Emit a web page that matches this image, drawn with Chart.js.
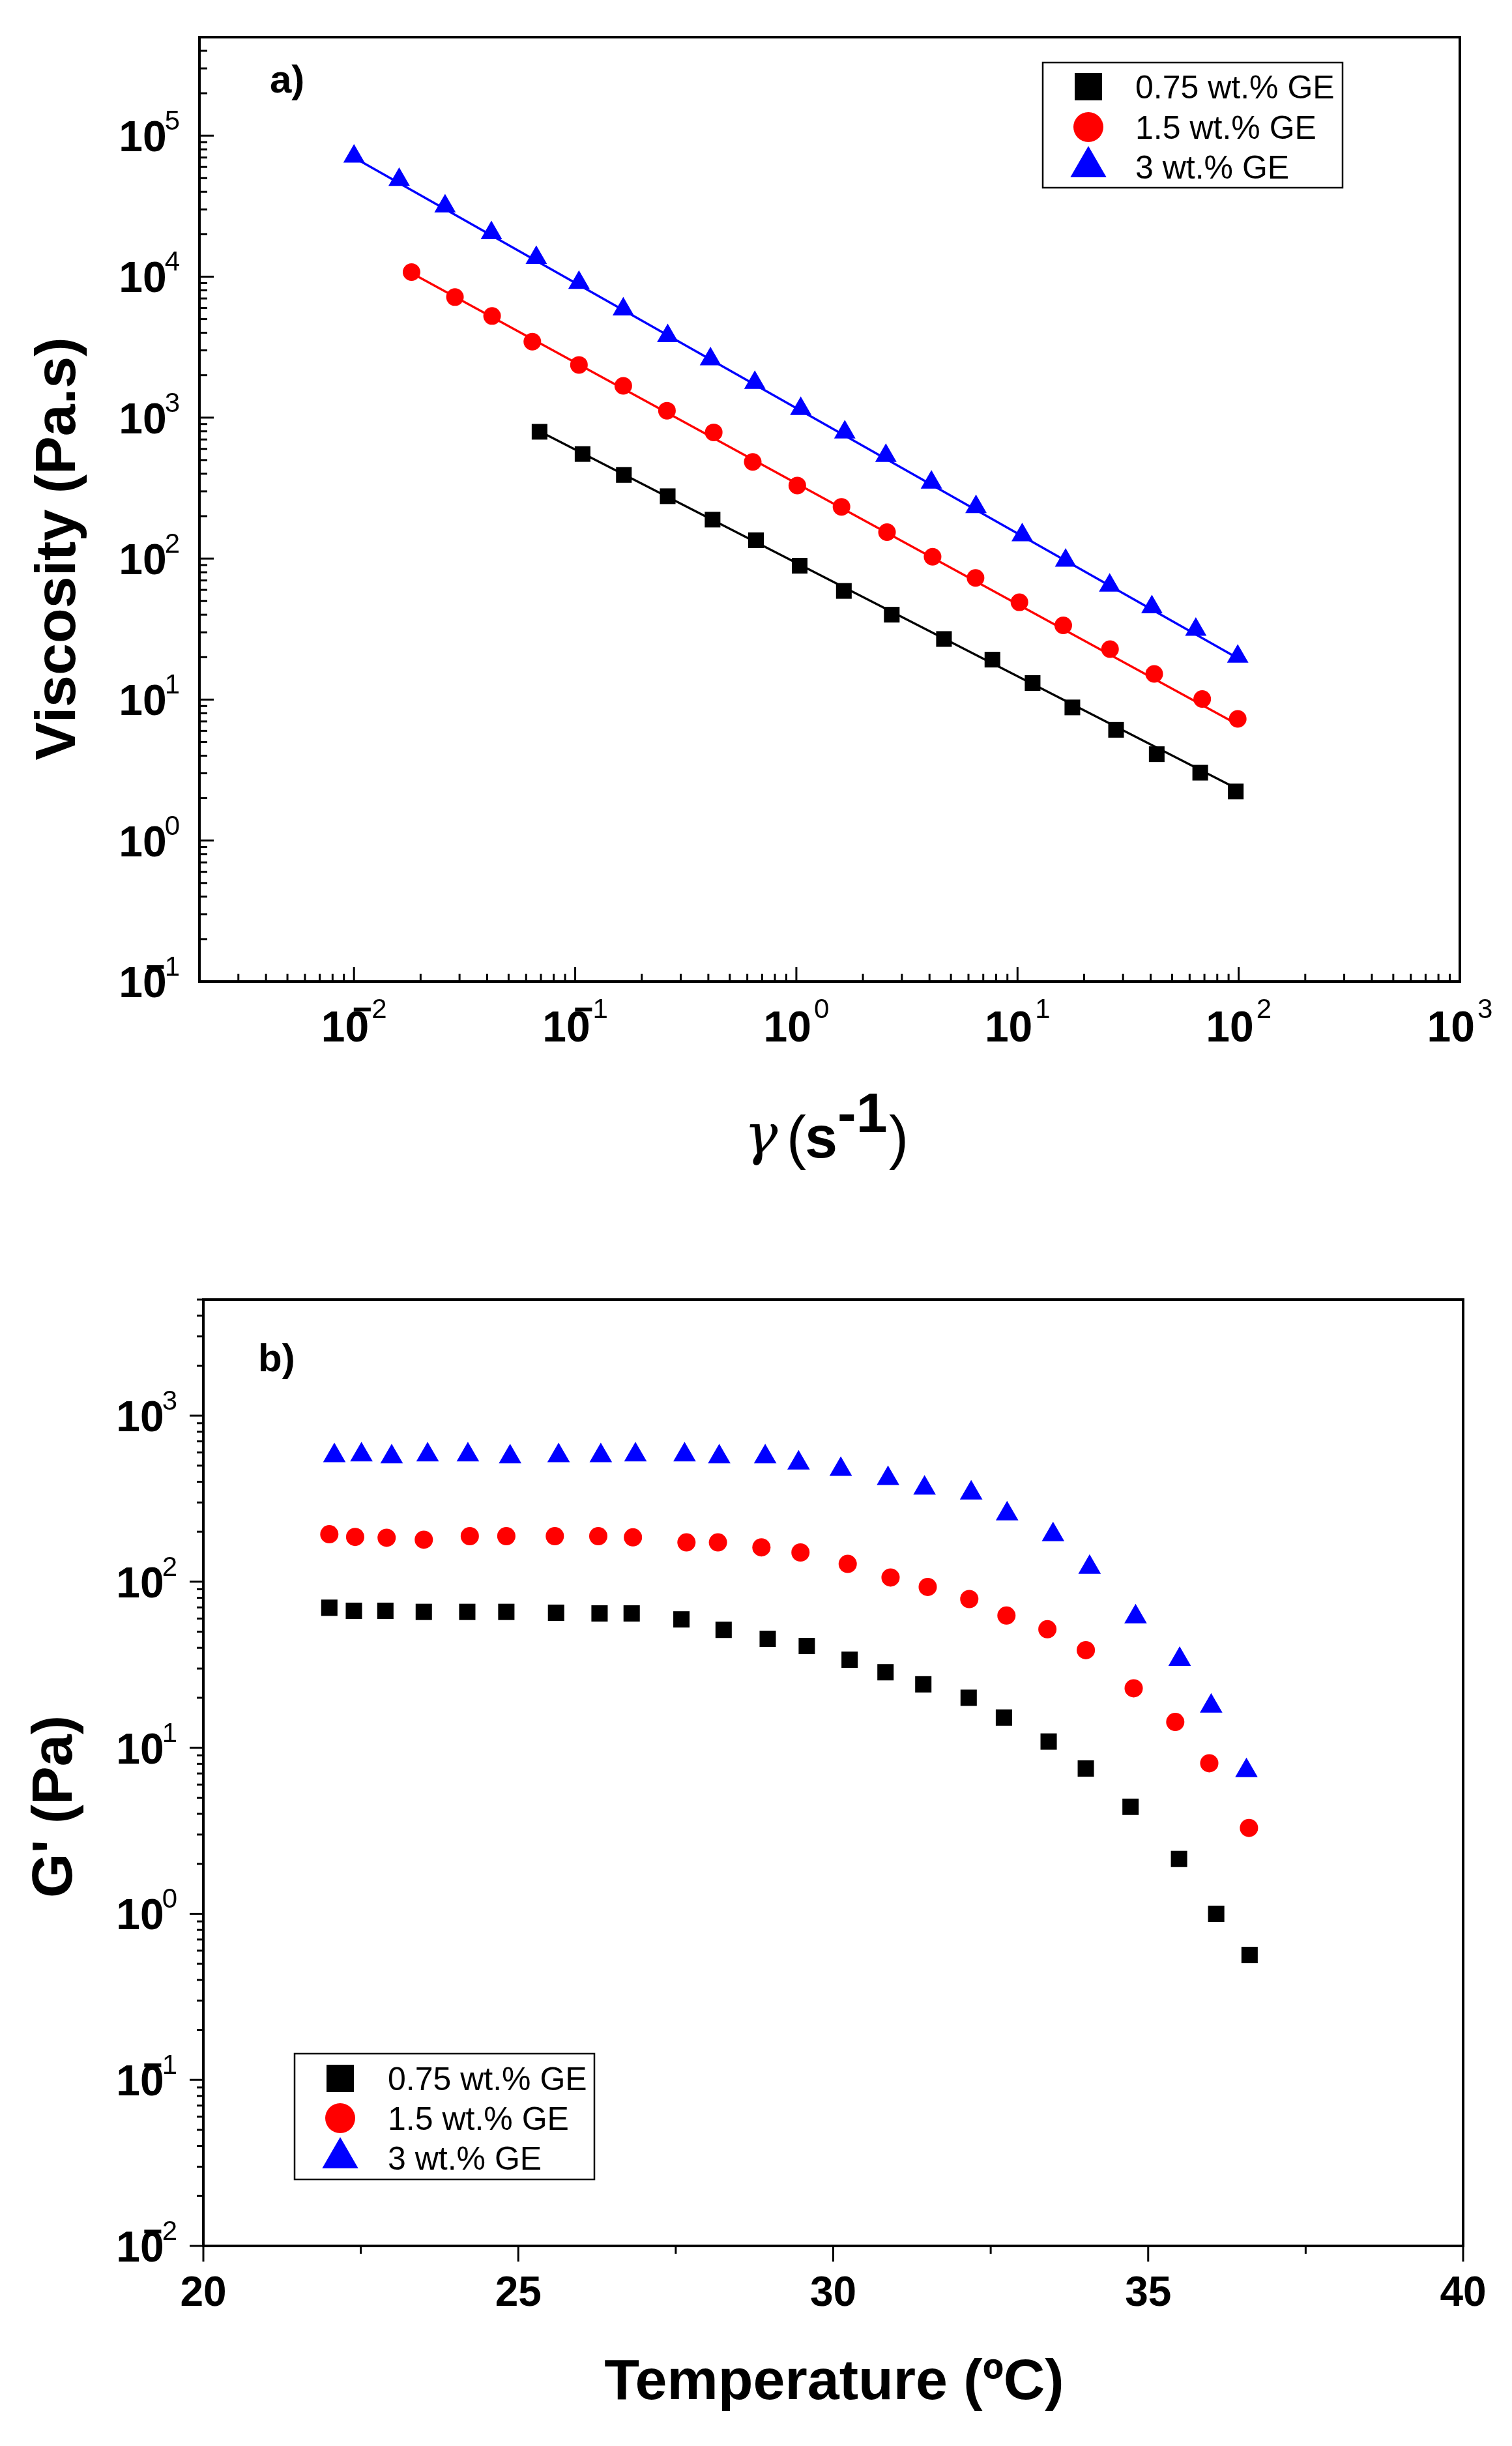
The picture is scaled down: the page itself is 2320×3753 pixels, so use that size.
<!DOCTYPE html>
<html>
<head>
<meta charset="utf-8">
<script src="https://cdn.jsdelivr.net/npm/chart.js@4.4.1/dist/chart.umd.min.js"></script>
<style>
html,body{margin:0;padding:0;background:#ffffff;}
canvas{display:block;}
</style>
</head>
<body>
<canvas id="c1" width="2320" height="1850"></canvas>
<canvas id="c2" width="2320" height="1903"></canvas>
<script>
// ---------- shared series info ----------
const seriesLabels = ['0.75 wt.% GE', '1.5 wt.% GE', '3 wt.% GE'];
const seriesColors = ['#000000', '#ff0000', '#0000ff'];
const seriesStyles = ['rect', 'circle', 'triangle'];

// ---------- panel a) viscosity vs shear rate ----------
const shearRate075 = [0.069, 0.108, 0.166, 0.262, 0.418, 0.657, 1.035, 1.64, 2.7, 4.65, 7.7, 11.7, 17.7, 27.9, 42.6, 67, 97];
const viscosity075 = [794, 552, 392, 277, 189, 135, 89, 59, 40, 26.9, 19.2, 13.1, 8.8, 6.1, 4.1, 3.03, 2.23];
const shearRate15 = [0.0182, 0.0286, 0.0421, 0.064, 0.104, 0.165, 0.26, 0.423, 0.635, 1.01, 1.6, 2.57, 4.13, 6.46, 10.2, 16.1, 26.2, 41.5, 68.4, 99];
const viscosity15 = [10770, 7160, 5260, 3460, 2366, 1682, 1120, 786, 485, 330, 233, 154, 103, 72.9, 49, 33.6, 22.8, 15.2, 10.1, 7.3];
const shearRate3 = [0.01, 0.016, 0.0258, 0.0418, 0.0667, 0.104, 0.165, 0.262, 0.409, 0.649, 1.047, 1.656, 2.54, 4.08, 6.49, 10.5, 16.5, 26.1, 40.5, 64, 99];
const viscosity3 = [71300, 48700, 31600, 20400, 13600, 9060, 5870, 3800, 2600, 1770, 1156, 787, 537, 347, 233, 147, 97, 64.6, 45.3, 31.4, 20.2];
// power-law fit lines (end points)
const fitRate075 = [0.069, 100];
const fitVisc075 = [800, 2.3];
const fitRate15 = [0.0182, 100];
const fitVisc15 = [10600, 6.6];
const fitRate3 = [0.01, 100];
const fitVisc3 = [70000, 19.5];
// axes
const viscXTicks = [0.01, 0.1, 1, 10, 100, 1000];
const viscYTicks = [0.1, 1, 10, 100, 1000, 10000, 100000];
const viscXRange = [0.002, 1000];
const viscYRange = [0.1, 500000];

// ---------- panel b) G' vs temperature ----------
const temp075 = [22.0, 22.39, 22.89, 23.50, 24.19, 24.81, 25.60, 26.29, 26.80, 27.59, 28.26, 28.96, 29.58, 30.26, 30.83, 31.43, 32.15, 32.71, 33.42, 34.01, 34.72, 35.49, 36.08, 36.61];
const gPrime075 = [69.7, 66.8, 66.8, 65.8, 65.8, 65.8, 65.0, 64.4, 64.4, 59.3, 51.3, 45.3, 41.0, 33.9, 28.5, 24.1, 20.0, 15.2, 10.9, 7.5, 4.41, 2.14, 1.0, 0.565];
const temp15 = [22.0, 22.41, 22.91, 23.50, 24.23, 24.81, 25.58, 26.27, 26.82, 27.67, 28.17, 28.86, 29.48, 30.23, 30.91, 31.50, 32.16, 32.75, 33.40, 34.01, 34.77, 35.43, 35.97, 36.60];
const gPrime15 = [193, 186, 184, 179, 188, 188, 188, 188, 185, 172.5, 172.5, 161, 150, 128, 106, 93, 78.6, 62.5, 51.7, 38.7, 22.8, 14.3, 8.07, 3.29];
const temp3 = [22.08, 22.51, 22.99, 23.56, 24.20, 24.87, 25.64, 26.31, 26.86, 27.64, 28.19, 28.92, 29.45, 30.12, 30.87, 31.45, 32.19, 32.76, 33.49, 34.07, 34.80, 35.50, 36.00, 36.56];
const gPrime3 = [574, 580, 565, 580, 580, 565, 574, 574, 580, 580, 565, 565, 518, 475, 418, 366, 342, 256, 192, 122, 61.4, 34.1, 17.8, 7.28];
// axes
const tempTicks = [20, 25, 30, 35, 40];
const tempMinorTicks = [22.5, 27.5, 32.5, 37.5];
const gYTicks = [0.01, 0.1, 1, 10, 100, 1000];
const tempRange = [20, 40];
const gYRange = [0.01, 5000];

// ---------- helpers ----------
const FONT = '"Liberation Sans", Arial, Helvetica, sans-serif';
const pts = (xs, ys) => xs.map((x, i) => ({x: x, y: ys[i]}));

function logMinor(majors, range) {
  const out = [];
  const decades = [majors[0] / 10].concat(majors);
  for (const m of decades) {
    for (let k = 2; k <= 9; k++) {
      const v = m * k;
      if (v > range[0] * 1.0001 && v < range[1] * 1.0001) out.push(v);
    }
  }
  return out;
}

function powLabel(ctx, exp, x, base10, baseExp, mode, gap) {
  const big = 'bold 66px ' + FONT, small = '42px ' + FONT;
  ctx.font = big;
  const w10 = ctx.measureText('10').width;
  const digits = String(Math.abs(exp));
  ctx.font = small;
  const wd = ctx.measureText(digits).width;
  const total = w10 + gap + wd;
  const x0 = mode === 'center' ? x - total / 2 : x - total;
  ctx.textAlign = 'left';
  ctx.textBaseline = 'alphabetic';
  ctx.fillStyle = '#000';
  ctx.font = big;
  ctx.fillText('10', x0, base10);
  ctx.font = small;
  ctx.fillText(digits, x0 + w10 + gap, baseExp);
  if (exp < 0) {
    ctx.font = 'bold 52px ' + FONT;
    ctx.textAlign = 'right';
    ctx.fillText('\u2212', x0 + w10 + gap + 1, baseExp + 4);
  }
}

function marker(ctx, style, x, y, r, color) {
  ctx.fillStyle = color;
  ctx.beginPath();
  if (style === 'rect') {
    const s = r * Math.SQRT1_2;
    ctx.rect(x - s, y - s, 2 * s, 2 * s);
  } else if (style === 'circle') {
    ctx.arc(x, y, r, 0, Math.PI * 2);
  } else {
    ctx.moveTo(x, y - r);
    ctx.lineTo(x + r * 0.866, y + r / 2);
    ctx.lineTo(x - r * 0.866, y + r / 2);
    ctx.closePath();
  }
  ctx.fill();
}

function drawLegend(ctx, box, markerX, textX, rowsY, radii) {
  ctx.save();
  ctx.fillStyle = '#fff';
  ctx.fillRect(box[0], box[1], box[2] - box[0], box[3] - box[1]);
  ctx.strokeStyle = '#000';
  ctx.lineWidth = 2.5;
  ctx.strokeRect(box[0], box[1], box[2] - box[0], box[3] - box[1]);
  for (let i = 0; i < seriesLabels.length; i++) {
    marker(ctx, seriesStyles[i], markerX, rowsY[i], radii[i], seriesColors[i]);
    ctx.fillStyle = '#000';
    ctx.font = '50px ' + FONT;
    ctx.textAlign = 'left';
    ctx.textBaseline = 'alphabetic';
    ctx.fillText(seriesLabels[i], textX, rowsY[i] + 18);
  }
  ctx.restore();
}

function line(ctx, x1, y1, x2, y2) {
  ctx.beginPath(); ctx.moveTo(x1, y1); ctx.lineTo(x2, y2); ctx.stroke();
}

function scatterSet(label, xs, ys, i, r) {
  return {
    label: label, data: pts(xs, ys), showLine: false,
    pointStyle: seriesStyles[i], pointRadius: r, pointHoverRadius: r,
    backgroundColor: seriesColors[i], borderColor: seriesColors[i],
    pointBorderWidth: 0, order: 0
  };
}
function fitSet(xs, ys, i) {
  return {
    label: 'fit', data: pts(xs, ys), showLine: true, pointRadius: 0,
    borderColor: seriesColors[i], borderWidth: 3.5, backgroundColor: seriesColors[i],
    fill: false, order: 1
  };
}

// ---------- panel a) ----------
const axesA = {
  id: 'axesA',
  afterDraw(chart) {
    const ctx = chart.ctx, a = chart.chartArea;
    const xs = chart.scales.x, ys = chart.scales.y;
    ctx.save();
    ctx.strokeStyle = '#000';
    ctx.lineWidth = 3;
    // inward ticks
    for (const v of viscXTicks) { const p = xs.getPixelForValue(v); line(ctx, p, a.bottom, p, a.bottom - 22); }
    for (const v of logMinor(viscXTicks, viscXRange)) { const p = xs.getPixelForValue(v); line(ctx, p, a.bottom, p, a.bottom - 12); }
    for (const v of viscYTicks) { const p = ys.getPixelForValue(v); line(ctx, a.left, p, a.left + 22, p); }
    for (const v of logMinor(viscYTicks, viscYRange)) { const p = ys.getPixelForValue(v); line(ctx, a.left, p, a.left + 12, p); }
    ctx.lineWidth = 4;
    ctx.strokeRect(a.left, a.top, a.right - a.left, a.bottom - a.top);
    // tick labels
    for (const v of viscXTicks) {
      const p = xs.getPixelForValue(v);
      powLabel(ctx, Math.round(Math.log10(v)), p, a.bottom + 92, a.bottom + 56, 'center', 4);
    }
    for (const v of viscYTicks) {
      const p = ys.getPixelForValue(v);
      powLabel(ctx, Math.round(Math.log10(v)), a.left - 30, p + 24, p - 9, 'right', -3);
    }
    // panel letter
    ctx.fillStyle = '#000';
    ctx.font = 'bold 60px ' + FONT;
    ctx.textAlign = 'left'; ctx.textBaseline = 'alphabetic';
    ctx.fillText('a)', 414, 142);
    // y title
    ctx.save();
    ctx.translate(115, 842);
    ctx.rotate(-Math.PI / 2);
    ctx.font = 'bold 88px ' + FONT;
    ctx.textAlign = 'center';
    ctx.fillText('Viscosity (Pa.s)', 0, 0);
    ctx.restore();
    // x title: γ (s^-1)
    ctx.textAlign = 'left';
    ctx.font = 'italic 86px "DejaVu Serif", serif';
    ctx.fillText('\u03B3', 1142, 1770);
    ctx.font = '90px ' + FONT;
    ctx.fillText('(', 1207, 1776);
    ctx.font = 'bold 90px ' + FONT;
    ctx.fillText('s', 1235, 1776);
    ctx.font = 'bold 86px ' + FONT;
    ctx.fillText('-1', 1285, 1737);
    ctx.font = '90px ' + FONT;
    ctx.fillText(')', 1364, 1776);
    ctx.restore();
    drawLegend(ctx, [1600, 96, 2060, 288], 1670, 1742, [133, 195, 256], [29.7, 23, 32]);
  }
};

new Chart(document.getElementById('c1'), {
  type: 'scatter',
  data: {
    datasets: [
      scatterSet(seriesLabels[0], shearRate075, viscosity075, 0, 17),
      scatterSet(seriesLabels[1], shearRate15, viscosity15, 1, 13.5),
      scatterSet(seriesLabels[2], shearRate3, viscosity3, 2, 19),
      fitSet(fitRate075, fitVisc075, 0),
      fitSet(fitRate15, fitVisc15, 1),
      fitSet(fitRate3, fitVisc3, 2)
    ]
  },
  options: {
    responsive: false, animation: false, devicePixelRatio: 1,
    layout: { padding: { left: 306, right: 80, top: 57, bottom: 344 } },
    plugins: { legend: { display: false }, tooltip: { enabled: false } },
    scales: {
      x: { type: 'logarithmic', min: viscXRange[0], max: viscXRange[1], display: false },
      y: { type: 'logarithmic', min: viscYRange[0], max: viscYRange[1], display: false }
    }
  },
  plugins: [axesA]
});

// ---------- panel b) ----------
const axesB = {
  id: 'axesB',
  afterDraw(chart) {
    const ctx = chart.ctx, a = chart.chartArea;
    const xs = chart.scales.x, ys = chart.scales.y;
    ctx.save();
    ctx.strokeStyle = '#000';
    ctx.lineWidth = 3;
    // outward ticks
    for (const v of tempTicks) { const p = xs.getPixelForValue(v); line(ctx, p, a.bottom, p, a.bottom + 24); }
    for (const v of tempMinorTicks) { const p = xs.getPixelForValue(v); line(ctx, p, a.bottom, p, a.bottom + 12); }
    for (const v of gYTicks) { const p = ys.getPixelForValue(v); line(ctx, a.left, p, a.left - 21, p); }
    for (const v of logMinor(gYTicks, gYRange)) { const p = ys.getPixelForValue(v); line(ctx, a.left, p, a.left - 10, p); }
    ctx.lineWidth = 4;
    ctx.strokeRect(a.left, a.top, a.right - a.left, a.bottom - a.top);
    // tick labels
    ctx.fillStyle = '#000';
    for (const v of tempTicks) {
      const p = xs.getPixelForValue(v);
      ctx.font = 'bold 64px ' + FONT;
      ctx.textAlign = 'center'; ctx.textBaseline = 'alphabetic';
      ctx.fillText(String(v), p, a.bottom + 92);
    }
    for (const v of gYTicks) {
      const p = ys.getPixelForValue(v);
      powLabel(ctx, Math.round(Math.log10(v)), a.left - 40, p + 24, p - 9, 'right', -3);
    }
    ctx.fillStyle = '#000';
    ctx.font = 'bold 60px ' + FONT;
    ctx.textAlign = 'left'; ctx.textBaseline = 'alphabetic';
    ctx.fillText('b)', 396, 254);
    // y title
    ctx.save();
    ctx.translate(110, 922);
    ctx.rotate(-Math.PI / 2);
    ctx.font = 'bold 88px ' + FONT;
    ctx.textAlign = 'center';
    ctx.fillText("G' (Pa)", 0, 0);
    ctx.restore();
    // x title
    ctx.font = 'bold 88px ' + FONT;
    ctx.textAlign = 'center';
    ctx.fillText('Temperature (\u00BAC)', 1280, 1831);
    ctx.restore();
    drawLegend(ctx, [452, 1301, 912, 1494], 522, 595, [1339, 1400, 1461], [29.7, 23, 32]);
  }
};

new Chart(document.getElementById('c2'), {
  type: 'scatter',
  data: {
    datasets: [
      scatterSet(seriesLabels[0], temp075, gPrime075, 0, 17.7),
      scatterSet(seriesLabels[1], temp15, gPrime15, 1, 14),
      scatterSet(seriesLabels[2], temp3, gPrime3, 2, 20)
    ]
  },
  options: {
    responsive: false, animation: false, devicePixelRatio: 1,
    layout: { padding: { left: 312, right: 75, top: 144, bottom: 307 } },
    plugins: { legend: { display: false }, tooltip: { enabled: false } },
    scales: {
      x: { type: 'linear', min: tempRange[0], max: tempRange[1], display: false },
      y: { type: 'logarithmic', min: gYRange[0], max: gYRange[1], display: false }
    }
  },
  plugins: [axesB]
});
</script>
</body>
</html>
